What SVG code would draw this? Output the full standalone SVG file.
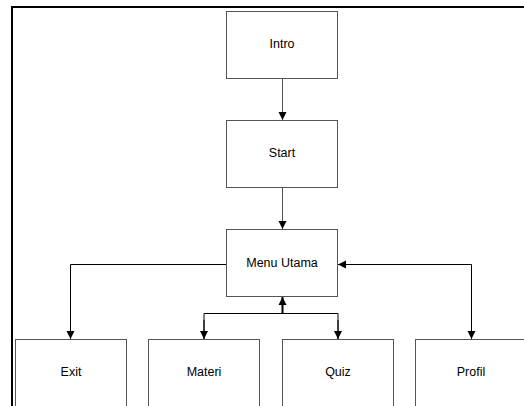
<svg xmlns="http://www.w3.org/2000/svg" width="524" height="406" viewBox="0 0 524 406">
<style>
.box{fill:#fff;stroke:#555;stroke-width:1}
.lbl{font-family:"Liberation Sans",Arial,sans-serif;font-size:12.5px;fill:#000;text-anchor:middle;dominant-baseline:central}
.con{fill:none;stroke:#000;stroke-width:1}
.gray{stroke:#555}
</style>
<defs>
<marker id="ah" markerUnits="userSpaceOnUse" markerWidth="10" markerHeight="10" viewBox="0 0 10 10" refX="8" refY="5" orient="auto">
<path d="M0,1 L8,5 L0,9 Z" fill="#000"/>
</marker>
</defs>
<g id="frame">
<path d="M12,406 V7 H524" fill="none" stroke="#000" stroke-width="2"/>
</g>
<g id="intro"><rect class="box" x="226.5" y="11.5" width="111" height="67"/><text class="lbl" x="282" y="44">Intro</text></g>
<g id="start"><rect class="box" x="226.5" y="120.5" width="111" height="67"/><text class="lbl" x="282" y="153">Start</text></g>
<g id="menu"><rect class="box" x="226.5" y="229.5" width="111" height="67"/><text class="lbl" x="282" y="263">Menu Utama</text></g>
<g id="exit"><rect class="box" x="15.5" y="339.5" width="111" height="80"/><text class="lbl" x="71" y="372">Exit</text></g>
<g id="materi"><rect class="box" x="148.5" y="339.5" width="111" height="80"/><text class="lbl" x="204" y="372">Materi</text></g>
<g id="quiz"><rect class="box" x="282.5" y="339.5" width="111" height="80"/><text class="lbl" x="338" y="372">Quiz</text></g>
<g id="profil"><rect class="box" x="415.5" y="339.5" width="111" height="80"/><text class="lbl" x="471" y="372">Profil</text></g>
<g id="connectors">
<path class="con gray" d="M282.5,78 V120" marker-end="url(#ah)"/>
<path class="con gray" d="M282.5,187 V229" marker-end="url(#ah)"/>
<path class="con" d="M226,264.5 H70.5 V339" marker-end="url(#ah)"/>
<path class="con" d="M471.5,264.5 V339" marker-end="url(#ah)"/>
<path class="con" d="M471.5,264.5 H338" marker-end="url(#ah)"/>
<path d="M282.5,313 V297" fill="none" stroke="#000" stroke-width="2" marker-end="url(#ah)"/>
<path class="con" d="M204,339 V313.5 H338 V339"/>
<path class="con" d="M204,320 V339" marker-end="url(#ah)"/>
<path class="con" d="M338,320 V339" marker-end="url(#ah)"/>
</g>
</svg>
